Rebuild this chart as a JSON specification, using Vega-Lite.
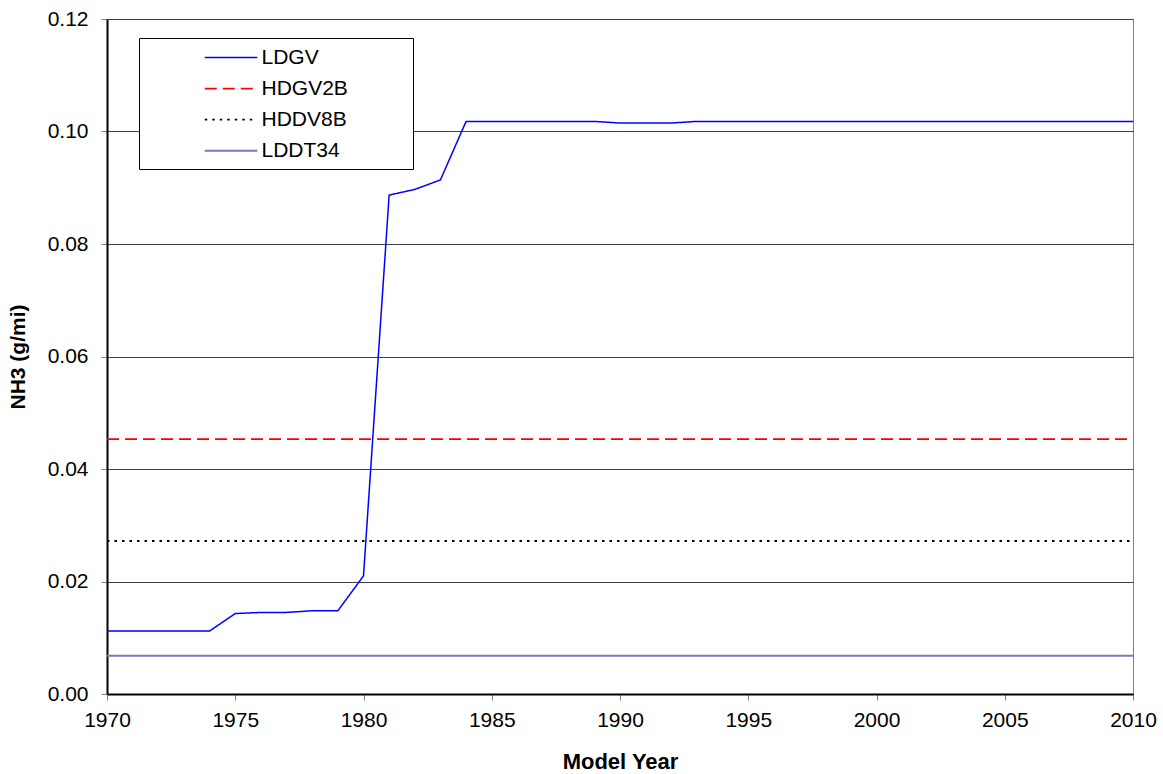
{
  "$schema": "https://vega.github.io/schema/vega-lite/v6.json",
  "width": 1026,
  "height": 675,
  "autosize": {"type": "none"},
  "padding": {"left": 107, "top": 19, "right": 30, "bottom": 80},
  "background": "#ffffff",
  "config": {
    "font": "Liberation Sans",
    "view": {"stroke": "#808080", "strokeWidth": 1},
    "legend": {
      "orient": "none",
      "legendX": 32,
      "legendY": 19,
      "titleOrient": "right",
      "titlePadding": 57,
      "titleFontSize": 21,
      "titleColor": "#ffffff",
      "strokeColor": "#000000",
      "fillColor": "#ffffff",
      "padding": 8,
      "symbolType": "M-2.5,0H2.5",
      "symbolSize": 441,
      "symbolOffset": 72.5,
      "labelOffset": 19,
      "labelFontSize": 21,
      "labelColor": "#000000",
      "rowPadding": 9.1
    }
  },
  "data": {
    "values": [
      {"year": 1970, "LDGV": 0.0112, "HDGV2B": 0.0453, "HDDV8B": 0.0272, "LDDT34": 0.0068},
      {"year": 1971, "LDGV": 0.0112, "HDGV2B": 0.0453, "HDDV8B": 0.0272, "LDDT34": 0.0068},
      {"year": 1972, "LDGV": 0.0112, "HDGV2B": 0.0453, "HDDV8B": 0.0272, "LDDT34": 0.0068},
      {"year": 1973, "LDGV": 0.0112, "HDGV2B": 0.0453, "HDDV8B": 0.0272, "LDDT34": 0.0068},
      {"year": 1974, "LDGV": 0.0112, "HDGV2B": 0.0453, "HDDV8B": 0.0272, "LDDT34": 0.0068},
      {"year": 1975, "LDGV": 0.0143, "HDGV2B": 0.0453, "HDDV8B": 0.0272, "LDDT34": 0.0068},
      {"year": 1976, "LDGV": 0.0145, "HDGV2B": 0.0453, "HDDV8B": 0.0272, "LDDT34": 0.0068},
      {"year": 1977, "LDGV": 0.0145, "HDGV2B": 0.0453, "HDDV8B": 0.0272, "LDDT34": 0.0068},
      {"year": 1978, "LDGV": 0.0148, "HDGV2B": 0.0453, "HDDV8B": 0.0272, "LDDT34": 0.0068},
      {"year": 1979, "LDGV": 0.0148, "HDGV2B": 0.0453, "HDDV8B": 0.0272, "LDDT34": 0.0068},
      {"year": 1980, "LDGV": 0.0210, "HDGV2B": 0.0453, "HDDV8B": 0.0272, "LDDT34": 0.0068},
      {"year": 1981, "LDGV": 0.0887, "HDGV2B": 0.0453, "HDDV8B": 0.0272, "LDDT34": 0.0068},
      {"year": 1982, "LDGV": 0.0897, "HDGV2B": 0.0453, "HDDV8B": 0.0272, "LDDT34": 0.0068},
      {"year": 1983, "LDGV": 0.0914, "HDGV2B": 0.0453, "HDDV8B": 0.0272, "LDDT34": 0.0068},
      {"year": 1984, "LDGV": 0.1018, "HDGV2B": 0.0453, "HDDV8B": 0.0272, "LDDT34": 0.0068},
      {"year": 1985, "LDGV": 0.1018, "HDGV2B": 0.0453, "HDDV8B": 0.0272, "LDDT34": 0.0068},
      {"year": 1986, "LDGV": 0.1018, "HDGV2B": 0.0453, "HDDV8B": 0.0272, "LDDT34": 0.0068},
      {"year": 1987, "LDGV": 0.1018, "HDGV2B": 0.0453, "HDDV8B": 0.0272, "LDDT34": 0.0068},
      {"year": 1988, "LDGV": 0.1018, "HDGV2B": 0.0453, "HDDV8B": 0.0272, "LDDT34": 0.0068},
      {"year": 1989, "LDGV": 0.1018, "HDGV2B": 0.0453, "HDDV8B": 0.0272, "LDDT34": 0.0068},
      {"year": 1990, "LDGV": 0.1015, "HDGV2B": 0.0453, "HDDV8B": 0.0272, "LDDT34": 0.0068},
      {"year": 1991, "LDGV": 0.1015, "HDGV2B": 0.0453, "HDDV8B": 0.0272, "LDDT34": 0.0068},
      {"year": 1992, "LDGV": 0.1015, "HDGV2B": 0.0453, "HDDV8B": 0.0272, "LDDT34": 0.0068},
      {"year": 1993, "LDGV": 0.1018, "HDGV2B": 0.0453, "HDDV8B": 0.0272, "LDDT34": 0.0068},
      {"year": 1994, "LDGV": 0.1018, "HDGV2B": 0.0453, "HDDV8B": 0.0272, "LDDT34": 0.0068},
      {"year": 1995, "LDGV": 0.1018, "HDGV2B": 0.0453, "HDDV8B": 0.0272, "LDDT34": 0.0068},
      {"year": 1996, "LDGV": 0.1018, "HDGV2B": 0.0453, "HDDV8B": 0.0272, "LDDT34": 0.0068},
      {"year": 1997, "LDGV": 0.1018, "HDGV2B": 0.0453, "HDDV8B": 0.0272, "LDDT34": 0.0068},
      {"year": 1998, "LDGV": 0.1018, "HDGV2B": 0.0453, "HDDV8B": 0.0272, "LDDT34": 0.0068},
      {"year": 1999, "LDGV": 0.1018, "HDGV2B": 0.0453, "HDDV8B": 0.0272, "LDDT34": 0.0068},
      {"year": 2000, "LDGV": 0.1018, "HDGV2B": 0.0453, "HDDV8B": 0.0272, "LDDT34": 0.0068},
      {"year": 2001, "LDGV": 0.1018, "HDGV2B": 0.0453, "HDDV8B": 0.0272, "LDDT34": 0.0068},
      {"year": 2002, "LDGV": 0.1018, "HDGV2B": 0.0453, "HDDV8B": 0.0272, "LDDT34": 0.0068},
      {"year": 2003, "LDGV": 0.1018, "HDGV2B": 0.0453, "HDDV8B": 0.0272, "LDDT34": 0.0068},
      {"year": 2004, "LDGV": 0.1018, "HDGV2B": 0.0453, "HDDV8B": 0.0272, "LDDT34": 0.0068},
      {"year": 2005, "LDGV": 0.1018, "HDGV2B": 0.0453, "HDDV8B": 0.0272, "LDDT34": 0.0068},
      {"year": 2006, "LDGV": 0.1018, "HDGV2B": 0.0453, "HDDV8B": 0.0272, "LDDT34": 0.0068},
      {"year": 2007, "LDGV": 0.1018, "HDGV2B": 0.0453, "HDDV8B": 0.0272, "LDDT34": 0.0068},
      {"year": 2008, "LDGV": 0.1018, "HDGV2B": 0.0453, "HDDV8B": 0.0272, "LDDT34": 0.0068},
      {"year": 2009, "LDGV": 0.1018, "HDGV2B": 0.0453, "HDDV8B": 0.0272, "LDDT34": 0.0068},
      {"year": 2010, "LDGV": 0.1018, "HDGV2B": 0.0453, "HDDV8B": 0.0272, "LDDT34": 0.0068}
    ]
  },
  "transform": [
    {"fold": ["LDGV", "HDGV2B", "HDDV8B", "LDDT34"], "as": ["series", "value"]}
  ],
  "mark": {"type": "line", "interpolate": "linear"},
  "encoding": {
    "x": {
      "field": "year",
      "type": "quantitative",
      "scale": {"domain": [1970, 2010], "nice": false, "zero": false},
      "axis": {
        "values": [1970, 1975, 1980, 1985, 1990, 1995, 2000, 2005, 2010],
        "format": "d",
        "title": "Model Year",
        "grid": false,
        "domainColor": "#000000",
        "domainWidth": 2,
        "tickColor": "#808080",
        "tickSize": 6,
        "labelFontSize": 21,
        "labelColor": "#000000",
        "labelPadding": 9,
        "labelFlush": false,
        "titleFontSize": 22,
        "titleFontWeight": "bold",
        "titleColor": "#000000",
        "titlePadding": 21
      }
    },
    "y": {
      "field": "value",
      "type": "quantitative",
      "scale": {"domain": [0, 0.12], "nice": false},
      "axis": {
        "values": [0, 0.02, 0.04, 0.06, 0.08, 0.1, 0.12],
        "format": ".2f",
        "title": "NH3 (g/mi)",
        "grid": true,
        "gridColor": "#404040",
        "gridWidth": 1,
        "domainColor": "#000000",
        "domainWidth": 2,
        "tickColor": "#808080",
        "tickSize": 6,
        "labelFontSize": 21,
        "labelColor": "#000000",
        "labelPadding": 13,
        "labelFlush": false,
        "titleFontSize": 21,
        "titleFontWeight": "bold",
        "titleColor": "#000000",
        "titlePadding": 19
      }
    },
    "color": {
      "field": "series",
      "type": "nominal",
      "title": "\u00a0",
      "scale": {
        "domain": ["LDGV", "HDGV2B", "HDDV8B", "LDDT34"],
        "range": ["#0000FF", "#FF0000", "#000000", "#7777C4"]
      }
    },
    "strokeDash": {
      "field": "series",
      "type": "nominal",
      "title": "\u00a0",
      "scale": {
        "domain": ["LDGV", "HDGV2B", "HDDV8B", "LDDT34"],
        "range": [[1, 0], [12, 6], [2.5, 5], [1, 0]]
      }
    },
    "strokeWidth": {
      "field": "series",
      "type": "nominal",
      "title": "\u00a0",
      "scale": {
        "domain": ["LDGV", "HDGV2B", "HDDV8B", "LDDT34"],
        "range": [1.5, 2, 2, 2.5]
      }
    }
  }
}
